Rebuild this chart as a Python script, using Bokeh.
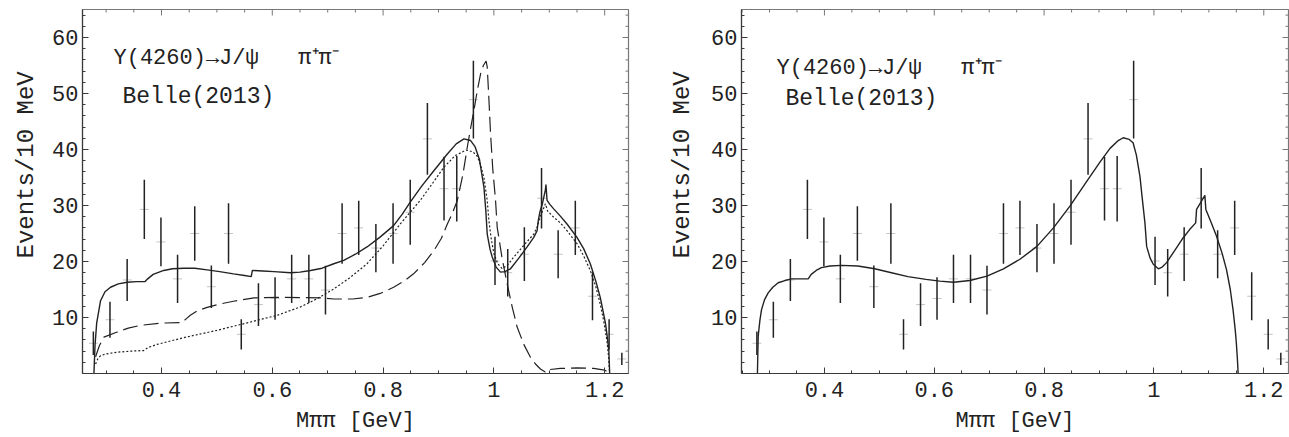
from bokeh.plotting import figure
from bokeh.models import FixedTicker, Label, ColumnDataSource, Range1d, Title
from bokeh.layouts import row
from bokeh.embed import file_html
from bokeh.resources import INLINE

# ---------------- data ----------------
x_data = [0.277, 0.307, 0.338, 0.369, 0.399, 0.429, 0.460, 0.490, 0.521, 0.544,
          0.575, 0.605, 0.635, 0.666, 0.696, 0.726, 0.756, 0.787, 0.818, 0.849,
          0.880, 0.910, 0.933, 0.963, 1.002, 1.025, 1.055, 1.086, 1.116, 1.147,
          1.178, 1.208, 1.231]
y_data = [5.4, 9.6, 16.7, 29.3, 23.5, 16.9, 25.0, 15.5, 25.0, 7.0,
          12.3, 13.4, 16.9, 16.9, 14.9, 25.0, 26.0, 22.4, 25.0, 28.8,
          41.9, 33.0, 33.0, 48.9, 20.1, 18.0, 21.3, 31.3, 21.3, 26.0,
          13.8, 7.0, 2.6]
y_err = [2.1, 3.2, 3.75, 5.3, 4.35, 4.3, 4.85, 3.8, 5.4, 2.7,
         3.8, 3.8, 4.3, 4.3, 4.35, 5.4, 4.85, 4.3, 5.4, 5.8,
         6.4, 5.7, 5.85, 6.95, 4.3, 4.25, 4.8, 5.4, 4.3, 4.85,
         4.3, 2.7, 1.1]

left_solid_x = [0.278, 0.280, 0.283, 0.290, 0.298, 0.308, 0.322, 0.338, 0.355, 0.370,
                0.375, 0.385, 0.404, 0.420, 0.440, 0.460, 0.4825, 0.505, 0.530, 0.550,
                0.562, 0.564, 0.583, 0.603, 0.633, 0.650, 0.669, 0.690, 0.711, 0.729,
                0.750, 0.771, 0.795, 0.819, 0.835, 0.849, 0.870, 0.892, 0.916, 0.932,
                0.946, 0.958, 0.966, 0.974, 0.982, 0.9855, 0.988, 0.993, 0.997, 1.004,
                1.012, 1.020, 1.030, 1.045, 1.060, 1.072, 1.078, 1.080, 1.083, 1.088,
                1.093, 1.094, 1.096, 1.101, 1.108, 1.120, 1.132, 1.150, 1.162, 1.174,
                1.184, 1.192, 1.198, 1.2015, 1.205, 1.2075, 1.209]
left_solid_y = [0.0, 5.0, 9.0, 13.0, 14.6, 15.4, 16.0, 16.3, 16.4, 16.4,
                16.9, 17.7, 18.4, 18.7, 18.8, 18.8, 18.5, 18.2, 17.8, 17.5,
                17.3, 18.4, 18.3, 18.2, 18.0, 18.1, 18.4, 18.8, 19.6, 20.2,
                21.3, 22.6, 24.4, 26.4, 28.5, 30.6, 33.5, 36.25, 39.2, 41.0,
                41.9, 41.6, 40.5, 38.2, 33.3, 29.0, 24.9, 22.2, 20.8, 19.0,
                18.1, 18.2, 18.7, 20.6, 22.6, 24.3, 25.5, 27.2, 28.8, 30.5,
                32.8, 33.75, 30.9, 30.2, 29.4, 28.1, 26.7, 24.3, 22.3, 19.6,
                16.5, 13.6, 10.7, 8.9, 6.3, 4.1, 0.0]

left_dot_x = [0.281, 0.285, 0.290, 0.300, 0.320, 0.345, 0.368, 0.375, 0.392, 0.440,
              0.500, 0.561, 0.609, 0.651, 0.680, 0.711, 0.740, 0.771, 0.800, 0.831,
              0.867, 0.8895, 0.9095, 0.930, 0.950, 0.962, 0.970, 0.976, 0.982, 0.988,
              0.991, 0.995, 1.000, 1.007, 1.015, 1.025, 1.036, 1.055, 1.072, 1.078,
              1.083, 1.093, 1.097, 1.108, 1.120, 1.132, 1.150, 1.162, 1.174, 1.184,
              1.192, 1.198, 1.204, 1.207, 1.209]
left_dot_y = [1.7, 2.6, 3.2, 3.5, 3.8, 4.0, 4.1, 4.6, 5.2, 6.4,
              7.7, 9.2, 10.4, 11.9, 13.3, 15.1, 17.1, 19.6, 22.8, 26.7,
              30.9, 34.0, 36.8, 38.9, 39.9, 39.6, 38.8, 37.2, 35.0, 30.9,
              27.3, 24.2, 21.4, 19.6, 18.7, 19.4, 20.8, 23.0, 24.9, 26.1,
              27.8, 30.3, 29.0, 27.9, 26.9, 25.5, 23.2, 21.0, 18.4, 15.5,
              12.4, 9.5, 5.9, 3.0, 0.0]

left_dash_x = [0.281, 0.288, 0.296, 0.320, 0.340, 0.362, 0.398, 0.437, 0.445, 0.452,
               0.465, 0.4825, 0.505, 0.530, 0.567, 0.621, 0.687, 0.711, 0.745, 0.771,
               0.795, 0.819, 0.838, 0.855, 0.875, 0.892, 0.905, 0.916, 0.925, 0.934,
               0.944, 0.952, 0.958, 0.964, 0.970, 0.976, 0.981, 0.986, 0.988, 0.991,
               0.994, 0.998, 1.003, 1.006, 1.015, 1.024, 1.033, 1.042, 1.054, 1.066,
               1.076, 1.084, 1.092, 1.096, 1.100, 1.120, 1.150, 1.180, 1.200, 1.205,
               1.209]
left_dash_y = [3.0, 5.0, 6.5, 7.4, 8.1, 8.6, 9.0, 9.1, 9.8, 10.4,
               11.2, 11.8, 12.4, 12.9, 13.5, 13.6, 13.5, 13.3, 13.3, 13.6,
               14.3, 15.4, 16.5, 17.8, 19.8, 22.0, 24.1, 26.7, 28.6, 30.9,
               35.5, 40.4, 43.8, 47.0, 50.5, 53.5, 55.0, 55.8, 54.7, 49.0,
               42.8, 36.5, 30.9, 26.1, 20.5, 16.0, 11.9, 8.3, 5.2, 2.9,
               1.6, 0.8, 0.3, 0.2, 0.7, 0.9, 1.0, 0.9, 0.6, 0.3,
               0.0]

right_solid_x = [0.278, 0.2794, 0.2825, 0.2855, 0.291, 0.2976, 0.306, 0.3158, 0.328, 0.340,
                 0.355, 0.3704, 0.376, 0.385, 0.3945, 0.410, 0.431, 0.461, 0.4915, 0.522,
                 0.552, 0.585, 0.610, 0.635, 0.665, 0.696, 0.726, 0.756, 0.787, 0.817,
                 0.847, 0.8776, 0.902, 0.920, 0.935, 0.944, 0.955, 0.962, 0.968, 0.9745,
                 0.979, 0.9836, 0.9867, 0.993, 0.9988, 1.008, 1.015, 1.023, 1.038, 1.053,
                 1.065, 1.076, 1.0776, 1.085, 1.0927, 1.0945, 1.104, 1.114, 1.124, 1.132,
                 1.139, 1.144, 1.148, 1.150, 1.152, 1.1533]
right_solid_y = [0.0, 6.7, 9.5, 11.4, 13.2, 14.4, 15.4, 16.2, 16.6, 16.9,
                 16.9, 16.9, 17.7, 18.4, 18.9, 19.2, 19.3, 19.2, 18.7, 18.0,
                 17.3, 16.8, 16.5, 16.3, 16.6, 17.4, 18.7, 20.4, 22.7, 26.0,
                 29.9, 34.3, 37.8, 40.2, 41.6, 42.1, 41.8, 41.2, 39.0, 35.2,
                 31.0, 26.9, 22.7, 20.6, 19.5, 18.7, 19.0, 19.8, 22.0, 24.2,
                 25.7, 26.9, 29.3, 30.5, 31.8, 29.3, 27.0, 24.5, 21.5, 18.6,
                 15.0, 11.4, 7.8, 5.5, 2.5, 0.0]

x_ticks = [0.4, 0.6, 0.8, 1.0, 1.2]
x_tick_labels = ["0.4", "0.6", "0.8", "1", "1.2"]
x_minor = [0.25, 0.3, 0.35, 0.45, 0.5, 0.55, 0.65, 0.7, 0.75, 0.85, 0.9, 0.95,
           1.05, 1.1, 1.15, 1.25]
y_ticks = [10, 20, 30, 40, 50, 60]
y_minor = [2, 4, 6, 8, 12, 14, 16, 18, 22, 24, 26, 28, 32, 34, 36, 38, 42, 44, 46, 48,
           52, 54, 56, 58, 62, 64]
y_label = "Events/10 MeV"
x_label = "M\u03c0\u03c0 [GeV]"
title_line1 = "Y(4260)\u2192J/\u03c8\u00a0 \u00a0\u03c0\u207a\u03c0\u207b"
title_line2 = "Belle(2013)"

MONO = "Liberation Mono"
INK = "#222222"
AXC = "#3a3a3a"
FRAME_W = 546
FRAME_H = 364
Y0, Y1 = 0, 65


def style_axis(ax, ticks, minor, overrides=None):
    ax.ticker = FixedTicker(ticks=ticks, minor_ticks=minor + ticks)
    ax.major_tick_in = 6
    ax.major_tick_out = 0
    ax.minor_tick_in = 3
    ax.minor_tick_out = 0
    ax.axis_line_color = AXC
    ax.axis_line_width = 1.2
    ax.major_tick_line_color = AXC
    ax.minor_tick_line_color = AXC
    ax.major_label_text_font = MONO
    ax.major_label_text_font_size = "22px"
    ax.major_label_text_color = INK
    if overrides:
        ax.major_label_overrides = overrides


def make_panel(width, border_left, border_right, x0, x1, ylab_standoff, t1_pos, t2_pos):
    p = figure(width=width, height=437, x_range=Range1d(x0, x1), y_range=Range1d(Y0, Y1),
               output_backend="svg", toolbar_location=None,
               min_border_left=border_left, min_border_right=border_right,
               min_border_top=9, min_border_bottom=64)
    p.xgrid.visible = False
    p.ygrid.visible = False
    p.outline_line_color = "#777777"
    p.outline_line_width = 1.2
    p.background_fill_color = "white"
    p.border_fill_color = "white"

    overrides = {t: s for t, s in zip(x_ticks, x_tick_labels)}
    style_axis(p.xaxis[0], x_ticks, x_minor, overrides)
    p.xaxis[0].major_label_standoff = 8
    p.xaxis[0].axis_label = x_label
    p.xaxis[0].axis_label_text_font = MONO
    p.xaxis[0].axis_label_text_font_size = "22px"
    p.xaxis[0].axis_label_text_font_style = "normal"
    p.xaxis[0].axis_label_text_color = INK
    p.xaxis[0].axis_label_standoff = 9
    style_axis(p.yaxis[0], y_ticks, y_minor)
    p.yaxis[0].major_label_standoff = 4

    # y-axis title, placed off-centre like the reference
    p.add_layout(Title(text=y_label, align="left", offset=115, standoff=ylab_standoff,
                       text_font=MONO, text_font_size="24px", text_font_style="normal",
                       text_color=INK), "left")

    # inward ticks on the top and right frame edges (from the tick lists)
    dy_major = 6 * (Y1 - Y0) / FRAME_H
    dy_minor = 3 * (Y1 - Y0) / FRAME_H
    dx_major = 6 * (x1 - x0) / FRAME_W
    dx_minor = 3 * (x1 - x0) / FRAME_W
    tx = x_ticks + x_minor
    p.segment(x0=tx, x1=tx, y0=[Y1] * len(tx),
              y1=[Y1 - dy_major] * len(x_ticks) + [Y1 - dy_minor] * len(x_minor),
              line_color="#777777", line_width=1)
    ty = y_ticks + y_minor
    p.segment(x0=[x1] * len(ty), x1=[x1 - dx_major] * len(y_ticks) + [x1 - dx_minor] * len(y_minor),
              y0=ty, y1=ty, line_color="#777777", line_width=1)

    # data with error bars
    src = ColumnDataSource(dict(x=x_data, y=y_data,
                                lo=[y - e for y, e in zip(y_data, y_err)],
                                hi=[y + e for y, e in zip(y_data, y_err)]))
    p.scatter("x", "y", source=src, marker="dash", size=9, line_color="#c4c4c4",
              line_width=1)
    p.segment(x0="x", y0="lo", x1="x", y1="hi", source=src, line_color=INK,
              line_width=1.5)

    p.add_layout(Label(x=t1_pos[0], y=t1_pos[1], x_units="screen", y_units="screen",
                       text=title_line1, text_font=MONO, text_font_size="22px",
                       text_color=INK, text_baseline="middle"))
    p.add_layout(Label(x=t2_pos[0], y=t2_pos[1], x_units="screen", y_units="screen",
                       text=title_line2, text_font=MONO, text_font_size="23px",
                       text_color=INK, text_baseline="middle"))
    return p


p1 = make_panel(645, 82, 17, 0.2574, 1.243, 20, (31, 315), (40, 277))
p1.line(left_solid_x, left_solid_y, line_color=INK, line_width=1.4)
p1.line(left_dot_x, left_dot_y, line_color=INK, line_width=1.2, line_dash="2 2")
p1.line(left_dash_x, left_dash_y, line_color=INK, line_width=1.2, line_dash="15 6")

p2 = make_panel(644, 96, 1, 0.249, 1.245, 26, (35, 305), (44, 275))
p2.line(right_solid_x, right_solid_y, line_color=INK, line_width=1.4)

layout = row(p1, p2)
open("out.html", "w").write(file_html(layout, INLINE))
